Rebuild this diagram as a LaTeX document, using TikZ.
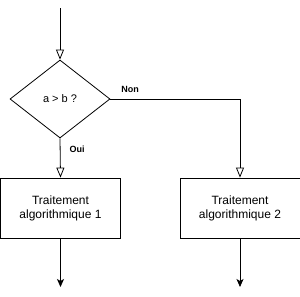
\documentclass[tikz,border=0pt]{standalone}
\usepackage{fontspec}
\setmainfont{Liberation Sans}
\usetikzlibrary{arrows.meta,shapes.geometric}

\tikzset{
  decision/.style={draw,diamond,inner sep=0pt,minimum width=100pt,minimum height=78pt,font=\fontsize{11}{13}\selectfont},
  process/.style={draw,rectangle,minimum width=120pt,minimum height=60pt,align=center,font=\fontsize{12}{14}\selectfont},
  flow/.style={-{Triangle[open,length=10pt,width=8pt]}},
  exit/.style={-{Stealth[length=8pt,width=7pt,inset=2pt]}},
  branch/.style={font=\bfseries\fontsize{9}{11}\selectfont}
}

\begin{document}
\begin{tikzpicture}[x=1pt,y=-1pt,line width=0.8pt]
\useasboundingbox (0,0) rectangle (300,297);

\coordinate (start) at (60,8);
\node[decision] (test) at (60,99) {a > b ?};
\node[process] (t1) at (60.5,208) {Traitement\\algorithmique 1};
\node[process] (t2) at (240,208) {Traitement\\algorithmique 2};
\coordinate (end1) at (60.5,287);
\coordinate (end2) at (240,287);

\draw[flow] (start) -- (test.north);
\draw[flow] (test.south) -- (t1.north);
\draw[flow] (test.east) -| (t2.north);
\draw[exit] (t1.south) -- (end1);
\draw[exit] (t2.south) -- (end2);

\node[branch] (non) at (130,89) {Non};
\node[branch] (oui) at (77,149) {Oui};
\end{tikzpicture}
\end{document}
